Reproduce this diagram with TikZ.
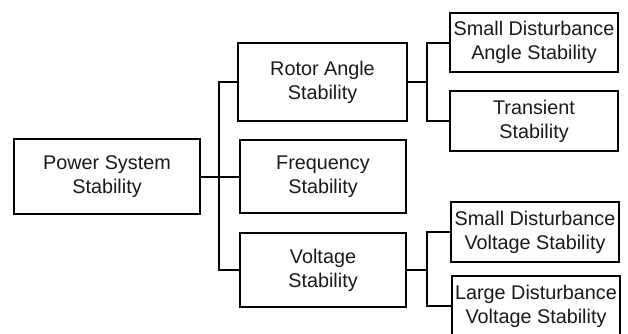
\documentclass[tikz,border=0pt]{standalone}
\usepackage{fontspec}
\setmainfont{Liberation Sans}
\begin{document}
\begin{tikzpicture}[x=1pt,y=-1pt,
  box/.style={draw=black,line width=2pt,rectangle,inner sep=0pt,align=center,
    font=\fontsize{19.8}{24}\selectfont,text=black!90},
  rootbox/.style={box,line width=2.8pt},
  conn/.style={draw=black,line width=2pt}]
\useasboundingbox (0,0) rectangle (628,333);
\node[rootbox,minimum width=186pt,minimum height=75pt] (pss) at (107,176.5) {Power System\\Stability};
\node[box,minimum width=169pt,minimum height=78pt] (rotor) at (322.5,82) {Rotor Angle\\Stability};
\node[box,minimum width=166pt,minimum height=73pt] (freq) at (323,176.5) {Frequency\\Stability};
\node[box,minimum width=166pt,minimum height=74pt] (volt) at (323,270) {Voltage\\Stability};
\node[box,minimum width=168pt,minimum height=59pt] (sda) at (534,42.5) {Small Disturbance\\Angle Stability};
\node[box,minimum width=168pt,minimum height=60pt] (tra) at (534,121) {Transient\\Stability};
\node[box,minimum width=168pt,minimum height=60pt] (sdv) at (535,232) {Small Disturbance\\Voltage Stability};
\node[box,minimum width=168pt,minimum height=60pt] (ldv) at (536,306) {Large Disturbance\\Voltage Stability};
\coordinate (t1) at (219,176.5);
\coordinate (t2) at (427,82);
\coordinate (t3) at (427,270);
\draw[conn] (pss.east) -- (freq.west);
\draw[conn] (rotor.west) -| (t1) |- (volt.west);
\draw[conn] (rotor.east) -- (t2);
\draw[conn] (sda.west) -| (t2) |- (tra.west);
\draw[conn] (volt.east) -- (t3);
\draw[conn] (sdv.west) -| (t3) |- (ldv.west);
\end{tikzpicture}
\end{document}
